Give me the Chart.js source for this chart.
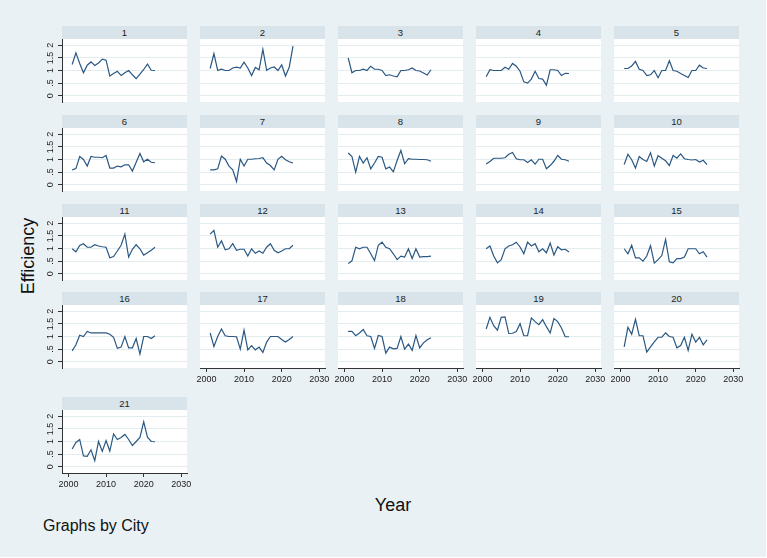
<!DOCTYPE html>
<html>
<head>
<meta charset="utf-8">
<script src="https://cdn.jsdelivr.net/npm/chart.js@4.4.0/dist/chart.umd.min.js"></script>
<style>
body{margin:0;background:#ffffff;font-family:"Liberation Sans",Arial,sans-serif;}
#page{position:relative;width:766px;height:557px;background:#eaf1f4;overflow:hidden;}
.strip{position:absolute;width:125px;height:13px;background:#d8e4ea;color:#222;font-size:9.5px;line-height:13px;text-align:center;}
canvas{position:absolute;}
.lab{position:absolute;color:#111;white-space:nowrap;}
</style>
</head>
<body>
<div id="page">
<div class="lab" style="left:28px;top:256px;font-size:18px;transform:translate(-50%,-50%) rotate(-90deg);">Efficiency</div>
<div class="lab" style="left:393px;top:505px;font-size:18px;transform:translate(-50%,-50%);">Year</div>
<div class="lab" style="left:43px;top:517px;font-size:16px;">Graphs by City</div>
</div>
<script>
const years = [2001,2002,2003,2004,2005,2006,2007,2008,2009,2010,2011,2012,2013,2014,2015,2016,2017,2018,2019,2020,2021,2022,2023];

const city1 = [1.24,1.70,1.28,0.91,1.21,1.34,1.20,1.30,1.45,1.41,0.78,0.88,0.97,0.80,0.91,1.00,0.83,0.68,0.86,1.04,1.25,1.01,1.00];
const city2 = [1.08,1.67,1.00,1.05,1.00,1.00,1.10,1.13,1.10,1.33,1.10,0.80,1.12,1.03,1.84,1.01,1.10,1.14,1.00,1.22,0.78,1.13,1.97];
const city3 = [1.50,0.91,1.00,1.00,1.05,1.00,1.17,1.05,1.05,1.00,0.80,0.83,0.78,0.75,1.00,1.00,1.03,1.10,1.00,0.98,0.90,0.82,1.03];
const city4 = [0.75,1.03,1.00,1.00,1.00,1.13,1.05,1.28,1.17,0.97,0.55,0.50,0.66,0.97,0.68,0.66,0.42,1.03,1.03,1.00,0.80,0.89,0.88];
const city5 = [1.08,1.08,1.18,1.36,1.05,1.00,0.80,0.83,1.00,0.71,1.00,1.00,1.39,1.00,0.97,0.88,0.80,0.72,1.00,1.00,1.21,1.10,1.08];
const city6 = [0.59,0.64,1.12,1.00,0.74,1.12,1.09,1.09,1.07,1.16,0.66,0.66,0.74,0.71,0.79,0.79,0.54,0.89,1.24,0.91,1.01,0.89,0.87];
const city7 = [0.59,0.59,0.63,1.14,1.01,0.74,0.59,0.13,1.01,0.74,1.01,1.01,1.03,1.04,1.07,0.86,0.76,0.59,1.01,1.13,0.99,0.91,0.86];
const city8 = [1.26,1.12,0.50,1.12,0.86,1.07,0.63,0.86,1.12,1.09,0.63,0.70,0.51,0.96,1.36,0.83,1.03,1.01,1.01,1.00,1.00,0.99,0.93];
const city9 = [0.82,0.92,1.05,1.05,1.05,1.07,1.21,1.28,1.03,0.99,0.99,0.88,0.99,0.82,1.01,1.01,0.63,0.76,0.93,1.16,1.01,0.99,0.93];
const city10 = [0.80,1.21,0.99,0.66,1.12,1.00,0.92,1.27,0.74,1.15,1.05,0.95,0.76,1.16,1.05,1.22,1.03,1.00,0.98,1.00,0.90,0.97,0.80];
const city11 = [0.99,0.87,1.12,1.19,1.05,1.05,1.15,1.10,1.07,1.05,0.63,0.68,0.90,1.13,1.57,0.66,0.97,1.15,0.99,0.74,0.83,0.93,1.05];
const city12 = [1.57,1.72,1.05,1.30,0.95,0.99,1.19,0.93,0.97,0.97,0.70,0.99,0.81,0.90,0.81,1.05,1.19,0.93,0.83,0.90,0.99,0.99,1.13];
const city13 = [0.40,0.51,1.05,0.99,1.05,1.05,0.79,0.52,1.13,1.25,1.05,0.99,0.79,0.56,0.70,0.66,0.99,0.60,0.99,0.66,0.68,0.68,0.70];
const city14 = [0.99,1.10,0.70,0.43,0.56,0.99,1.10,1.15,1.25,1.06,0.79,1.25,1.10,1.19,0.87,0.99,0.83,1.22,0.74,1.07,0.95,0.97,0.86];
const city15 = [0.99,0.79,1.13,0.63,0.63,0.50,0.70,1.11,0.42,0.56,0.72,1.36,0.47,0.43,0.60,0.60,0.66,0.99,0.99,0.99,0.79,0.87,0.66];
const city16 = [0.43,0.67,1.05,1.00,1.20,1.14,1.14,1.14,1.14,1.14,1.09,0.97,0.53,0.58,1.00,0.55,0.55,0.92,0.30,1.00,1.00,0.92,1.03];
const city17 = [1.14,0.60,1.00,1.30,1.03,1.00,1.00,0.99,0.50,1.25,0.47,0.64,0.47,0.58,0.37,0.78,1.00,1.00,1.00,0.88,0.78,0.88,1.00];
const city18 = [1.20,1.20,1.03,1.14,1.28,1.03,1.00,0.53,1.04,1.00,0.34,0.58,0.51,0.53,1.00,0.50,0.70,0.45,1.04,0.55,0.75,0.87,0.95];
const city19 = [1.30,1.76,1.43,1.25,1.76,1.78,1.12,1.13,1.20,1.51,1.03,1.03,1.74,1.59,1.47,1.67,1.39,1.14,1.71,1.59,1.34,0.99,0.99];
const city20 = [0.59,1.37,1.09,1.68,1.03,1.03,0.38,0.59,0.79,0.97,0.97,1.14,1.00,0.97,0.55,0.64,0.97,0.45,1.09,0.78,0.97,0.67,0.87];
const city21 = [0.70,0.96,1.08,0.43,0.41,0.67,0.24,1.00,0.61,1.04,0.62,1.30,1.08,1.16,1.28,1.08,0.84,1.00,1.16,1.78,1.17,1.00,0.99];

const cities = [city1,city2,city3,city4,city5,city6,city7,city8,city9,city10,city11,city12,city13,city14,city15,city16,city17,city18,city19,city20,city21];
const yTicks = [0,0.5,1,1.5,2];
const xTicks = [2000,2010,2020,2030];

// panel layout (Stata by() grid)
const colX = [62,200,338,476,614];
const rowTop = [39,128,217,305,410];
const plotW = 125, plotH = 63, axisW = 40, axisH = 24, padTop = 10, padRight = 12;

const page = document.getElementById("page");

const whiteArea = {
  id:"whiteArea",
  beforeDraw(chart){
    const a = chart.chartArea;
    const c = chart.ctx;
    c.save();
    c.fillStyle = "#ffffff";
    c.fillRect(a.left,a.top,a.right-a.left,a.bottom-a.top);
    c.restore();
  }
};

function yLabel(v){
  if(v===0) return "0";
  if(v===0.5) return ".5";
  return String(v);
}

cities.forEach((vals,i)=>{
  const col = i%5, row = Math.floor(i/5);
  const showY = col===0;
  const showX = i>=16;

  const strip = document.createElement("div");
  strip.className = "strip";
  strip.style.left = colX[col]+"px";
  strip.style.top = (rowTop[row]-13)+"px";
  strip.innerText = String(i+1);
  page.appendChild(strip);

  const cv = document.createElement("canvas");
  cv.width = axisW+plotW+padRight;
  cv.height = padTop+plotH+axisH;
  cv.style.left = (colX[col]-axisW)+"px";
  cv.style.top = (rowTop[row]-padTop)+"px";
  page.appendChild(cv);

  new Chart(cv,{
    type:"line",
    data:{
      datasets:[{
        data:years.map((y,k)=>({x:y,y:vals[k]})),
        borderColor:"#2a5882",
        borderWidth:1.2,
        pointRadius:0,
        tension:0,
        fill:false
      }]
    },
    options:{
      responsive:false,
      animation:false,
      events:[],
      layout:{padding:{top:padTop,right:padRight,left:0,bottom:0},autoPadding:false},
      plugins:{legend:{display:false},tooltip:{enabled:false}},
      scales:{
        x:{
          type:"linear",
          min:1998.3,
          max:2031.5,
          afterBuildTicks:s=>{s.ticks = xTicks.map(v=>({value:v}));},
          afterFit:s=>{s.height = axisH;},
          grid:{display:showX,drawOnChartArea:false,drawTicks:true,tickLength:4,color:"#333",tickColor:"#333"},
          border:{display:showX,color:"#333",width:1},
          ticks:{display:showX,padding:2,color:"#222",font:{size:9,family:"Liberation Sans"},maxRotation:0,minRotation:0,callback:v=>String(v)}
        },
        y:{
          min:-0.25,
          max:2.25,
          afterBuildTicks:s=>{s.ticks = yTicks.map(v=>({value:v}));},
          afterFit:s=>{s.width = axisW;},
          grid:{color:"#e3ecef",lineWidth:1,drawTicks:showY,tickLength:4,tickColor:"#333"},
          border:{display:showY,color:"#333",width:1},
          ticks:{display:showY,padding:1,color:"#222",font:{size:9,family:"Liberation Sans"},minRotation:90,maxRotation:90,crossAlign:"center",callback:v=>yLabel(v)}
        }
      }
    },
    plugins:[whiteArea]
  });
});
</script>
</body>
</html>
